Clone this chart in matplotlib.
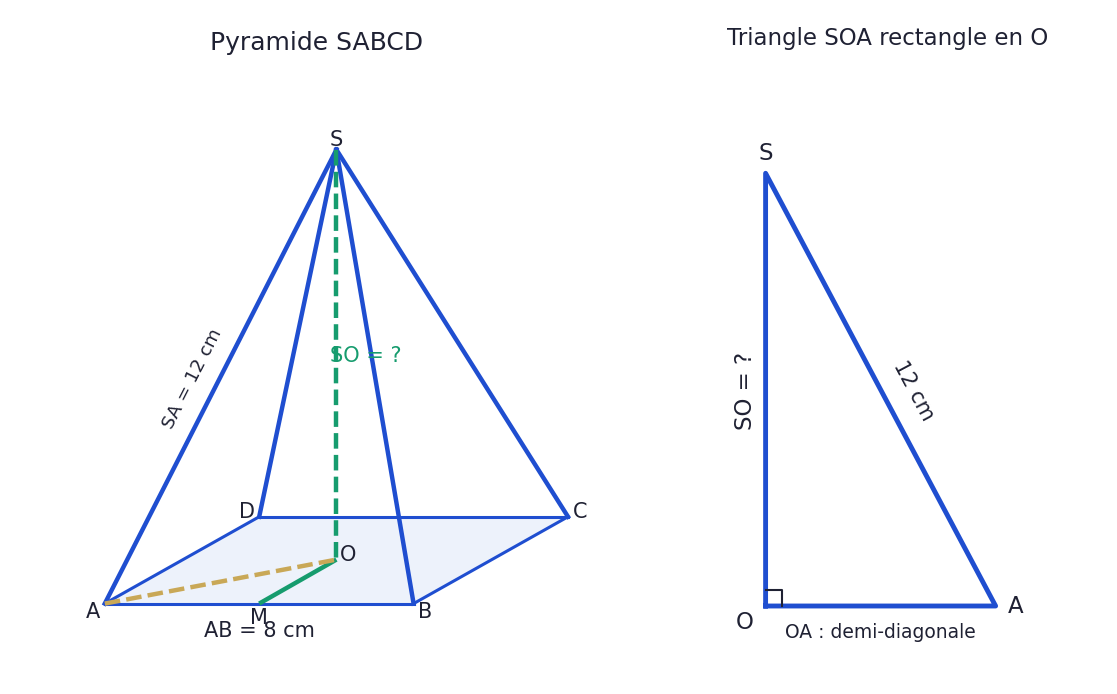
import matplotlib
matplotlib.use("Agg")
import matplotlib.pyplot as plt

# Pyramid geometry (cm-like units, floor projection)
pyr_names = ["A", "B", "C", "D", "S", "O", "M"]
pyr_x = [0, 8, 12, 4, 6, 6, 4]
pyr_y = [0, 0, 2.25, 2.25, 11.76, 1.14, 0]
# Right triangle geometry
tri_names = ["O", "A", "S"]
tri_x = [0, 5.66, 0]
tri_y = [0, 0, 10.58]

INK = "#1f2133"
BLUE = "#1f4ed0"
GREEN = "#169c6e"
GOLD = "#c9a857"
FILL = "#edf2fb"
W, H = 1117, 694

fig = plt.figure(figsize=(W / 100, H / 100), dpi=100)

def make_axes(px0, py0, ux, uy, x0, x1, y0, y1):
    # px0/py0: pixel position of data origin (y measured from the top)
    left = px0 + x0 * ux
    right = px0 + x1 * ux
    bottom = H - (py0 - y0 * uy)
    top = H - (py0 - y1 * uy)
    ax = fig.add_axes([left / W, bottom / H, (right - left) / W, (top - bottom) / H])
    ax.set_xlim(x0, x1)
    ax.set_ylim(y0, y1)
    ax.axis("off")
    return ax

# ---------- Left panel ----------
ax = make_axes(104.8, 603.6, 38.6, 38.6, -2, 14, -2, 14.5)
P = {n: (x, y) for n, x, y in zip(pyr_names, pyr_x, pyr_y)}

def seg(a, p, q, **kw):
    a.plot([p[0], q[0]], [p[1], q[1]], **kw)

base = [P[n] for n in "ABCD"]
ax.fill([p[0] for p in base], [p[1] for p in base], color=FILL, lw=0, zorder=1)
for p, q in [("A", "B"), ("B", "C"), ("C", "D"), ("D", "A")]:
    seg(ax, P[p], P[q], color=BLUE, lw=2.2, zorder=2)
for n in "ABCD":
    seg(ax, P[n], P["S"], color=BLUE, lw=3.2, zorder=3)
dash = (0, (3.5, 1.4))
seg(ax, P["S"], P["O"], color=GREEN, lw=3.2, ls=dash, zorder=4)
seg(ax, P["O"], P["M"], color=GREEN, lw=3.2, zorder=4, solid_capstyle="butt")
seg(ax, P["A"], P["O"], color=GOLD, lw=3.2, ls=dash, zorder=5)

fs = 15
def px_text(a, px, py, s, **kw):
    kw.setdefault("ha", "center")
    kw.setdefault("va", "center")
    kw.setdefault("color", INK)
    fig.text(px / W, 1 - py / H, s, **kw)

for s, px, py in [("S", 336, 140), ("A", 93, 612), ("B", 425, 612), ("C", 580, 512),
                  ("D", 247, 512), ("O", 348, 555), ("M", 259, 618)]:
    px_text(ax, px, py, s, fontsize=fs)
px_text(ax, 259.5, 631, "AB = 8 cm", fontsize=fs)
px_text(ax, 192.5, 378.5, "SA = 12 cm", fontsize=13.3, rotation=63)
px_text(ax, 366, 356, "SO = ?", fontsize=15, color=GREEN)
px_text(ax, 316.5, 43, "Pyramide SABCD", fontsize=18)

# ---------- Right panel ----------
ax2 = make_axes(765.6, 606, 40.64, 40.9, -1.5, 7.5, -1.5, 12)
T = {n: (x, y) for n, x, y in zip(tri_names, tri_x, tri_y)}
ax2.plot([T["O"][0], T["A"][0], T["S"][0], T["O"][0]],
         [T["O"][1], T["A"][1], T["S"][1], T["O"][1]],
         color=BLUE, lw=3.5, solid_joinstyle="round", zorder=2)
sq = 0.4
ax2.plot([0, sq, sq], [sq, sq, 0], color=INK, lw=1.5, zorder=3)

for s, px, py in [("S", 766, 153), ("O", 745, 622.5), ("A", 1015.5, 606.5)]:
    px_text(ax2, px, py, s, fontsize=16.5)
px_text(ax2, 745, 391, "SO = ?", fontsize=16.5, rotation=90)
px_text(ax2, 913.5, 391, "12 cm", fontsize=15, rotation=-62)
px_text(ax2, 880, 632, "OA : demi-diagonale", fontsize=13.5)
px_text(ax2, 887.5, 38, "Triangle SOA rectangle en O", fontsize=16.5)

fig.savefig("out.png", dpi=100)
